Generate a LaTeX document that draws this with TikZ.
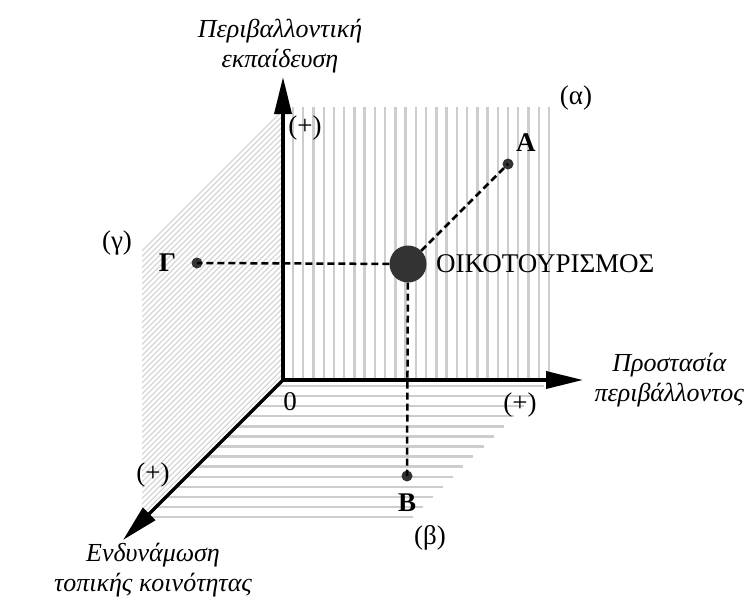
\documentclass[tikz,border=0pt]{standalone}
\usepackage{fontspec}
\setmainfont{Liberation Serif}
\usetikzlibrary{positioning, arrows.meta}
\definecolor{dotgray}{HTML}{333333}
\definecolor{hatchgray}{HTML}{CDCDCD}
\definecolor{finegray}{HTML}{D6D6D6}

\begin{document}
\begin{tikzpicture}[
  x=1pt, y=-1pt,
  font=\fontsize{27}{30}\selectfont,
  >={Triangle[length=37pt, width=17pt]},
  axis/.style={line width=3.5pt},
  hatch/.style={draw=hatchgray, line width=2.4pt},
  finehatch/.style={draw=finegray, line width=1.3pt},
  guide/.style={line width=2.5pt, dash pattern=on 7pt off 4pt},
  dot/.style={circle, fill=dotgray, inner sep=0pt, minimum size=11pt},
  bigdot/.style={dot, minimum size=37pt},
  ptlab/.style={font=\fontsize{27}{30}\selectfont\bfseries, inner sep=1pt},
  axlabel/.style={align=center, font=\fontsize{26}{30}\selectfont\itshape}
]
\useasboundingbox (0,0) rectangle (751,605);

% planes
\foreach \i in {0,...,25}
  \draw[hatch] (293+\i*10.24,107) -- ++(0,271);
\foreach \i in {0,...,13}
  \draw[hatch] (283-6-\i*10.08,386+\i*10.08) -- ++(267,0);
\begin{scope}
  \clip (283,107) -- (142,248) -- (142,521) -- (283,380) -- cycle;
  \foreach \c in {393,398.5,...,663}
    \draw[finehatch] (142,\c-142) -- (283,\c-283);
\end{scope}

% axes
\coordinate (O) at (283,380);
\coordinate (xtip) at (583,380);
\coordinate (ytip) at (283,77);
\coordinate (ztip) at (123,540);
\draw[axis, <->] (ytip) -- (O) -- (xtip);
\draw[axis, ->] (O) -- (ztip);

\node[axlabel, above=0pt of ytip, xshift=-3pt] (ylab) {Περιβαλλοντική\\εκπαίδευση};
\node[axlabel, right=6pt of xtip, xshift=2pt] (xlab) {Προστασία\\περιβάλλοντος};
\node[axlabel, below=0pt of ztip, xshift=30pt] (zlab) {Ενδυνάμωση\\τοπικής κοινότητας};

\node (zero) at (290,402) {0};
\node (yplus) at (305,128) {(+)};
\node (xplus) at (520,405) {(+)};
\node (zplus) at (153,475) {(+)};
\node (alpha) at (576,98) {(α)};
\node (beta) at (430,538) {(β)};
\node (gamma) at (117,243) {(γ)};

% points
\node[bigdot] (eco) at (408,264) {};
\node[dot] (A) at (508,164) {};
\node[dot] (G) at (197,263) {};
\node[dot] (B) at (407,476) {};
\draw[guide] (eco) -- (A.center);
\draw[guide] (eco) -- (G.center);
\draw[guide] (eco) -- (B.center);

\node[right=6pt of eco] (ecolab) {ΟΙΚΟΤΟΥΡΙΣΜΟΣ};
\node[ptlab, above right=7pt and 3pt of A] (Alab) {A};
\node[ptlab, left=14pt of G] (Glab) {Γ};
\node[ptlab, below=11pt of B] (Blab) {B};
\end{tikzpicture}
\end{document}
